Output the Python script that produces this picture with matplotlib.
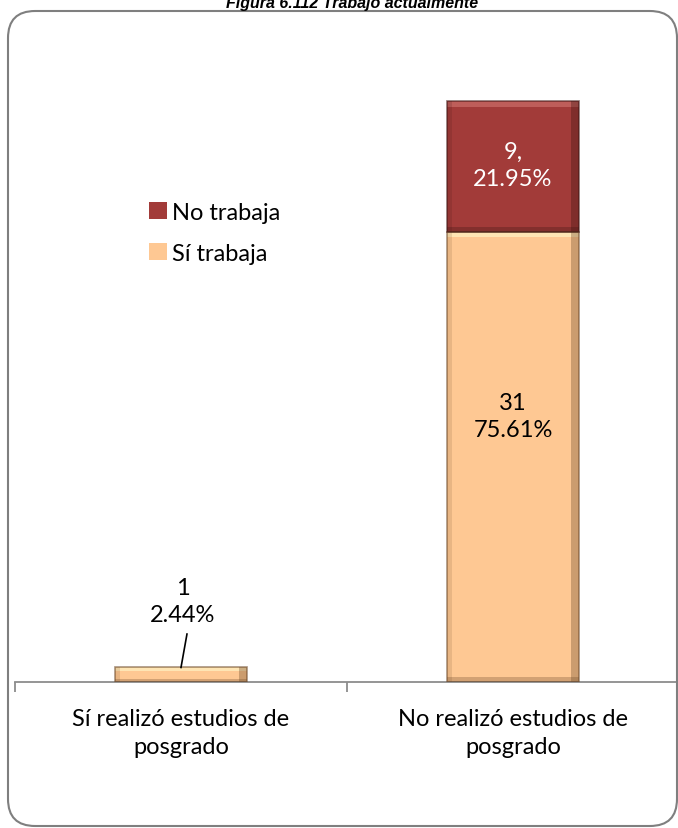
import numpy as np
import matplotlib.pyplot as plt
from matplotlib.patches import FancyBboxPatch, Rectangle


plt.rcParams.update({'font.family': ['Lato', 'DejaVu Sans'], 'font.size': 17})


categories = ['Sí realizó estudios de\nposgrado', 'No realizó estudios de\nposgrado']
si_trabaja = [1, 31]
no_trabaja = [0, 9]
si_labels = ['1\n2.44%', '31\n75.61%']
no_labels = ['', '9,\n21.95%']

COLOR_SI = '#FEC893'
COLOR_NO = '#A23B39'


def bevel(ax, patch, light, dark):
	# fake the excel bevel: light strip on top, dark strips right and bottom
	x, y = patch.get_x(), patch.get_y()
	w, h = patch.get_width(), patch.get_height()
	if h <= 0:
		return
	t = min(0.045 * w * 44 / 2, h * 0.25)
	ax.add_patch(Rectangle((x, y + h - t), w, t, color=light, lw=0, alpha=0.75, zorder=3))
	ax.add_patch(Rectangle((x + w * 0.94, y), w * 0.06, h, color=dark, lw=0, alpha=0.35, zorder=3))
	ax.add_patch(Rectangle((x, y), w * 0.04, h, color=dark, lw=0, alpha=0.15, zorder=3))
	ax.add_patch(Rectangle((x, y), w, t * 0.8, color=dark, lw=0, alpha=0.3, zorder=3))
	ax.add_patch(Rectangle((x, y), w, h, fill=False, ec=dark, lw=1.2, alpha=0.6, zorder=4))


fig = plt.figure(figsize=(6.78, 8.29), dpi=100)
ax = fig.add_axes([15 / 678, 1 - 683 / 829, 664 / 678, 643 / 829])

xs = np.arange(len(categories))
b1 = ax.bar(xs, si_trabaja, width=0.4, color=COLOR_SI, label='Sí trabaja', zorder=2)
b2 = ax.bar(xs, no_trabaja, width=0.4, bottom=si_trabaja, color=COLOR_NO, label='No trabaja', zorder=2)
for p in b1:
	bevel(ax, p, '#FFEFC0', '#6E4A2A')
for p in b2:
	bevel(ax, p, '#C86A66', '#3E1412')

ax.set_xlim(-0.5, 1.5)
ax.set_ylim(0, 44.25)

# data labels
ax.text(xs[1], 18.3, si_labels[1], ha='center', va='center', linespacing=1.35, zorder=5)
ax.text(xs[1], 35.6, no_labels[1], ha='center', va='center', color='white', linespacing=1.35, zorder=5)
ax.text(xs[0] + 0.005, 5.6, si_labels[0], ha='center', va='center', linespacing=1.35, zorder=5)
ax.plot([xs[0], xs[0] + 0.018], [si_trabaja[0], 3.3], color='black', lw=1.2, zorder=5)

# axis
for s in ['left', 'top', 'right']:
	ax.spines[s].set_visible(False)
ax.spines['bottom'].set_color('#8C8C8C')
ax.spines['bottom'].set_linewidth(1.3)
ax.set_yticks([])
ax.set_xticks(xs)
ax.set_xticklabels(categories, linespacing=1.4)
ax.tick_params(axis='x', which='major', length=0, pad=19)
ax.set_xticks([-0.5, 0.5, 1.5], minor=True)
ax.tick_params(axis='x', which='minor', length=7, color='#8C8C8C', width=1.3)

handles, labels = ax.get_legend_handles_labels()
fig.legend(handles[::-1], labels[::-1], loc='center left', bbox_to_anchor=(128 / 678, 1 - 234 / 829),
	frameon=False, handlelength=0.75, handleheight=0.75, handletextpad=0.2, labelspacing=0.85)

# rounded frame
frame = FancyBboxPatch((8 / 678, 1 - 827 / 829), 669 / 678, 815 / 829,
	boxstyle='round,pad=0,rounding_size=0.04', transform=fig.transFigure,
	fill=False, ec='#7F7F7F', lw=1.5, zorder=0, mutation_aspect=678 / 829)
fig.patches.append(frame)

fig.text(352 / 678, 1 - 8 / 829, 'Figura 6.112 Trabajo actualmente', ha='center', va='baseline',
	fontsize=11.5, fontweight='bold', fontstyle='italic', family=['Liberation Sans'])

fig.savefig('out.png', dpi=100)
